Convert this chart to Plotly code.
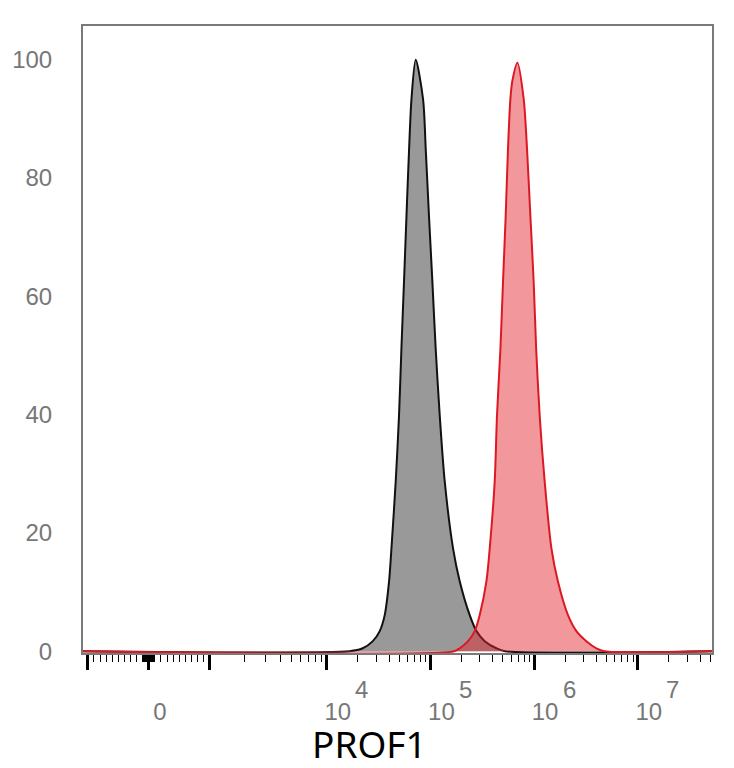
import numpy as np
import plotly.graph_objects as go

# histogram bins: log10 of PROF1 intensity, % of mode
GRAY_LOG = [4.22, 4.347, 4.444, 4.511, 4.559, 4.601, 4.624, 4.665, 4.697, 4.720,
            4.745, 4.769, 4.794, 4.817, 4.858, 4.929, 4.955, 4.986, 5.019, 5.051,
            5.090, 5.138, 5.218, 5.283, 5.379, 5.444, 5.524, 5.636, 5.72]
GRAY_PCT = [0, 0.5, 1.7, 3.4, 6.1, 11.8, 17.4, 28.7, 39.8, 51.1,
            62.4, 73.6, 84.8, 93.3, 100, 93.3, 84.8, 73.6, 62.4, 51.1,
            39.8, 28.7, 17.4, 11.8, 6.1, 3.4, 1.7, 0.5, 0]

RED_LOG = [5.23, 5.283, 5.363, 5.427, 5.475, 5.540, 5.572, 5.620, 5.642, 5.675,
           5.700, 5.726, 5.748, 5.771, 5.790, 5.839, 5.900, 5.932, 5.964, 5.996,
           6.020, 6.054, 6.102, 6.167, 6.230, 6.327, 6.408, 6.504, 6.601, 6.68]
RED_PCT = [0, 0.5, 1.7, 3.4, 6.1, 11.8, 17.4, 28.7, 39.8, 51.1,
           62.4, 73.6, 84.8, 93.3, 96.4, 99.5, 93.3, 84.8, 73.6, 62.4,
           51.1, 39.8, 28.7, 17.4, 11.8, 6.1, 3.4, 1.7, 0.5, 0]

# axis extent in intensity units
AXIS_MIN = -1.1e3
AXIS_MAX = 5.2e7

MAJOR_TICKS = [-1e3, 0, 1e3, 1e4, 1e5, 1e6, 1e7]
MAJOR_TEXT = ["", "0", "", "10", "10", "10", "10"]
EXP_TICKS = [1e4, 1e5, 1e6, 1e7]
EXP_TEXT = ["4", "5", "6", "7"]

Y_TICKS = [0, 20, 40, 60, 80, 100]

# biexponential-like display scale: linear inside +-1e3, log outside
ZERO_POS = 2.2835
LIN_WIDTH = 0.588
DECADES = [3, 4, 8]
DECADE_POS = [ZERO_POS + LIN_WIDTH, 4, 8]


def to_axis(v):
    ''' Map intensity values onto the display coordinate of the x axis '''
    v = np.asarray(v, dtype=float)
    a = np.abs(v)
    lin = LIN_WIDTH * a / 1e3
    lg = np.interp(np.log10(np.maximum(a, 1e3)), DECADES, DECADE_POS) - ZERO_POS
    return ZERO_POS + np.sign(v) * np.where(a <= 1e3, lin, lg)


def minor_ticks():
    ''' Minor tick intensities: tens and hundreds near zero, 2..9 per decade above '''
    ticks = []
    for step in (10, 100):
        for k in range(1, 10):
            ticks += [-k * step, k * step]
    for d in range(3, 8):
        for k in range(2, 10):
            if k * 10 ** d < AXIS_MAX:
                ticks.append(k * 10 ** d)
    return sorted(ticks)


def hist_trace(logs, pct, line_color, fill_color):
    ''' Filled histogram outline, padded with zeros out to the axis edges '''
    x = np.concatenate([[AXIS_MIN], 10 ** np.asarray(logs), [AXIS_MAX]])
    y = np.concatenate([[0], pct, [0]])
    return go.Scatter(
        x=to_axis(x), y=y, mode="lines", fill="tozeroy",
        line=dict(color=line_color, width=2, shape="spline", smoothing=0.8),
        fillcolor=fill_color, hoverinfo="skip", showlegend=False,
    )


fig = go.Figure()
fig.add_trace(hist_trace(GRAY_LOG, GRAY_PCT, "#111111", "rgb(153,153,153)"))
fig.add_trace(hist_trace(RED_LOG, RED_PCT, "rgb(220,25,35)", "rgba(228,35,45,0.47)"))

tick_font = dict(family="Liberation Sans, Arial, sans-serif", size=24, color="#777777")

fig.update_xaxes(
    range=[float(to_axis(AXIS_MIN)), float(to_axis(AXIS_MAX))],
    tickmode="array", tickvals=to_axis(MAJOR_TICKS), ticktext=MAJOR_TEXT,
    ticks="outside", ticklen=15, tickwidth=3, tickcolor="black",
    ticklabelshift=11, ticklabelstandoff=21, tickfont=tick_font,
    minor=dict(tickmode="array", tickvals=to_axis(minor_ticks()),
               ticks="outside", ticklen=7, tickwidth=1, tickcolor="black"),
    showline=True, linecolor="#7a7a7a", linewidth=2, mirror=True,
    showgrid=False, zeroline=False, automargin=False,
)
fig.update_yaxes(
    range=[-0.3, 105.7],
    tickmode="array", tickvals=Y_TICKS, ticks="",
    ticklabelstandoff=24, tickfont=tick_font,
    showline=True, linecolor="#7a7a7a", linewidth=2, mirror=True,
    showgrid=False, zeroline=False, automargin=False,
)

# exponents of the decade labels, drawn full size like the original
for val, txt in zip(EXP_TICKS, EXP_TEXT):
    fig.add_annotation(
        x=float(to_axis(val)), y=0, xref="x", yref="paper",
        text=txt, showarrow=False, font=tick_font, borderpad=0,
        xshift=35, yshift=-36, yanchor="middle",
    )

fig.add_annotation(
    x=0.456, y=0, xref="paper", yref="paper", text="PROF1", showarrow=False,
    font=dict(family="Noto Sans", size=37, color="black"), borderpad=0,
    yshift=-90, yanchor="middle",
)

# the page body keeps an 8px margin, so the figure starts 8px in from the window
fig.update_layout(
    width=718, height=760,
    margin=dict(l=75, r=14, t=18, b=115),
    plot_bgcolor="white", paper_bgcolor="white",
)

fig.write_html("out.html")
